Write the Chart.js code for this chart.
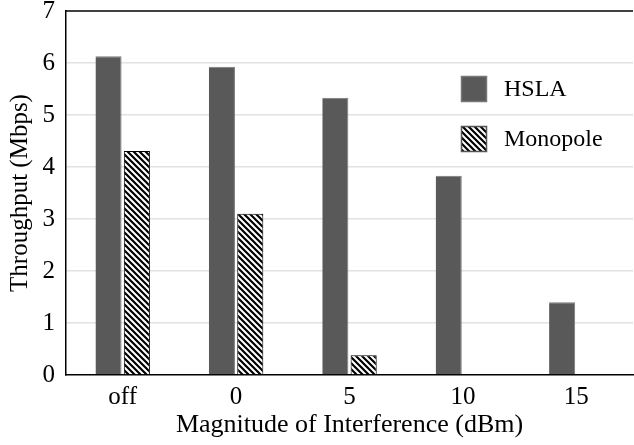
<!DOCTYPE html>
<html>
<head>
<meta charset="utf-8">
<script src="https://cdn.jsdelivr.net/npm/chart.js@4"></script>
<style>
  html, body { margin: 0; padding: 0; background: #fff; }
  #wrap { width: 634px; height: 445px; position: relative; }
</style>
</head>
<body>
<div id="wrap"><canvas id="chart" width="634" height="445"></canvas></div>
<script>
const categories = ['off', '0', '5', '10', '15'];
const hslaValues = [6.13, 5.93, 5.33, 3.83, 1.4];
const monopoleValues = [4.31, 3.1, 0.38, 0, 0];
const seriesNames = ['HSLA', 'Monopole'];

const FONT = '"Liberation Serif", "Times New Roman", serif';

// diagonal hatch for the monopole bars
function makeHatch() {
  const size = 6;
  const c = document.createElement('canvas');
  c.width = size;
  c.height = size;
  const g = c.getContext('2d');
  g.fillStyle = '#fff';
  g.fillRect(0, 0, size, size);
  g.strokeStyle = '#000';
  g.lineWidth = 2.2;
  g.beginPath();
  g.moveTo(-size, -size); g.lineTo(size * 2, size * 2);
  g.moveTo(-size, 0); g.lineTo(size, size * 2);
  g.moveTo(0, -size); g.lineTo(size * 2, size);
  g.stroke();
  return g.createPattern(c, 'repeat');
}

const hatch = makeHatch();

// legend drawn inside the plot, top right
const insideLegend = {
  id: 'insideLegend',
  afterDraw(chart) {
    const ctx = chart.ctx;
    const x = 461, size = 26;
    const rows = [76, 126];
    ctx.save();
    rows.forEach((y, i) => {
      const ds = chart.data.datasets[i];
      ctx.fillStyle = ds.backgroundColor;
      ctx.fillRect(x, y, size, size);
      ctx.lineWidth = 1.5;
      ctx.strokeStyle = i === 0 ? '#777' : '#555';
      ctx.strokeRect(x + 0.5, y + 0.5, size - 1, size - 1);
      ctx.fillStyle = '#000';
      ctx.font = '24px ' + FONT;
      ctx.textBaseline = 'middle';
      ctx.fillText(ds.label, 504, y + size / 2 + 1);
    });
    ctx.restore();
  }
};

// top frame line
const topBorder = {
  id: 'topBorder',
  afterDraw(chart) {
    const { ctx, chartArea } = chart;
    ctx.save();
    ctx.strokeStyle = '#000';
    ctx.lineWidth = 1.5;
    ctx.beginPath();
    ctx.moveTo(chartArea.left, chartArea.top);
    ctx.lineTo(chartArea.right, chartArea.top);
    ctx.stroke();
    ctx.restore();
  }
};

new Chart(document.getElementById('chart'), {
  type: 'bar',
  data: {
    labels: categories,
    datasets: [
      {
        label: seriesNames[0],
        data: hslaValues,
        backgroundColor: '#595959',
        borderColor: '#7a7a7a',
        borderWidth: { top: 1, right: 1, left: 0, bottom: 0 },
        categoryPercentage: 0.5,
        barPercentage: 0.92
      },
      {
        label: seriesNames[1],
        data: monopoleValues,
        backgroundColor: hatch,
        borderColor: '#000',
        borderWidth: 1,
        categoryPercentage: 0.5,
        barPercentage: 0.92
      }
    ]
  },
  options: {
    responsive: false,
    animation: false,
    layout: { padding: { top: 0, right: 1, left: 0, bottom: 0 } },
    plugins: {
      legend: { display: false },
      tooltip: { enabled: false }
    },
    scales: {
      x: {
        grid: { display: false, drawTicks: false },
        border: { color: '#000', width: 1.5 },
        ticks: { color: '#000', font: { family: FONT, size: 25, lineHeight: 1.2 }, padding: 7 },
        title: {
          display: true,
          text: 'Magnitude of Interference (dBm)',
          color: '#000',
          font: { family: FONT, size: 26, lineHeight: 1.2 },
          padding: { top: 0, bottom: 4 }
        },
        afterFit: (scale) => { scale.height = 70; }
      },
      y: {
        min: 0,
        max: 7,
        grid: {
          color: (c) => (c.tick.value === 0 || c.tick.value === 7) ? 'rgba(0,0,0,0)' : '#e2e2e2',
          lineWidth: 1.5,
          drawTicks: false
        },
        border: { color: '#000', width: 1.5 },
        ticks: { stepSize: 1, color: '#000', font: { family: FONT, size: 25, lineHeight: 1.0 }, padding: 11 },
        title: {
          display: true,
          text: 'Throughput (Mbps)',
          color: '#000',
          font: { family: FONT, size: 25, lineHeight: 1.2 },
          padding: { top: 5, bottom: 0 }
        },
        afterFit: (scale) => {
          scale.width = 66;
          scale.paddingTop = 11;
          scale.paddingBottom = 0;
        }
      }
    }
  },
  plugins: [insideLegend, topBorder]
});
</script>
</body>
</html>
